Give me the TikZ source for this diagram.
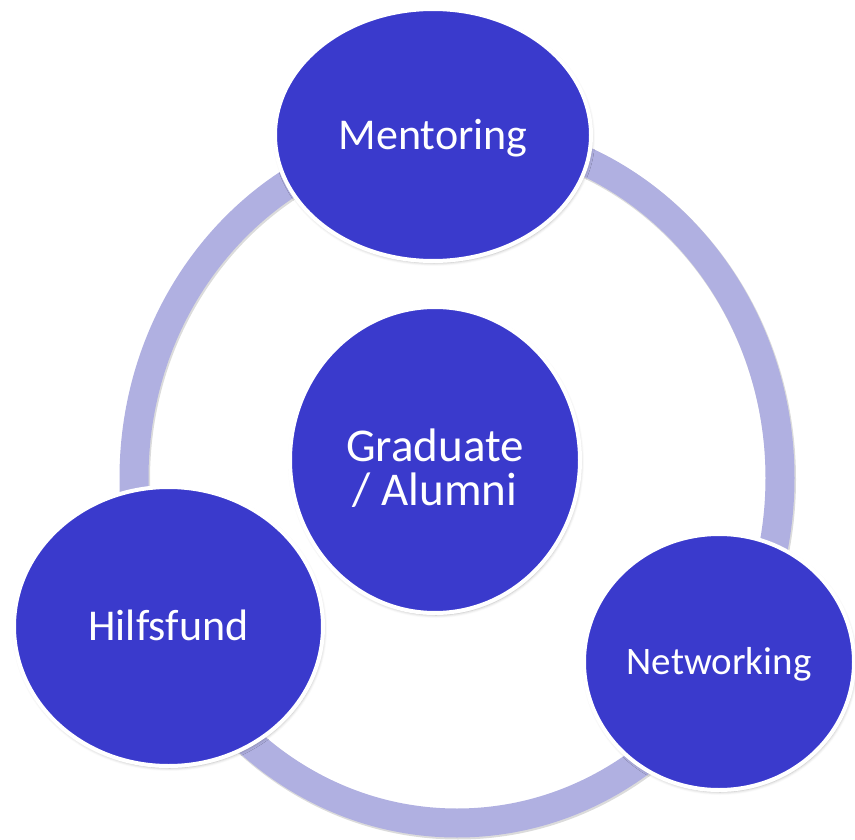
\documentclass[tikz,border=0pt]{standalone}
\usepackage{fontspec}
\setmainfont{Carlito}
\usetikzlibrary{shapes.geometric,shadows.blur}
\definecolor{blobblue}{RGB}{58,58,204}
\definecolor{ringblue}{RGB}{176,176,225}
\tikzset{
  blob/.style={ellipse, fill=blobblue, draw=white, line width=4pt, inner sep=0pt,
    text=white, blur shadow={shadow xshift=1pt, shadow yshift=-2pt,
    shadow blur radius=3pt, shadow opacity=30}},
  ringline/.style={draw=ringblue, line width=29pt},
  ringshadow/.style={draw=black!40, opacity=0.35, line width=30pt}
}
\begin{document}
\begin{tikzpicture}[x=1pt,y=-1pt]
\useasboundingbox (0,0) rectangle (855,840);
\coordinate (rc) at (457,478);
\draw[ringshadow] ([shift={(1,1.5)}]rc) ellipse [x radius=323, y radius=345];
\draw[ringline] (rc) ellipse [x radius=323, y radius=345];
\node[blob, text height=28.3pt, text depth=0pt, minimum width=316pt, minimum height=252pt,
  font=\fontsize{44}{48}\selectfont] (ment) at (433,135) {Mentoring};
\node[blob, text height=28.3pt, text depth=0pt, minimum width=309pt, minimum height=279pt,
  font=\fontsize{44}{48}\selectfont] (hilf) at (168.5,626.5) {Hilfsfund};
\node[blob, text height=25.1pt, text depth=0pt, minimum width=270pt, minimum height=256pt,
  font=\fontsize{39}{42}\selectfont] (netw) at (719,662) {Networking};
\node[blob, align=center, minimum width=290pt, minimum height=306pt,
  font=\fontsize{47}{44}\selectfont] (grad) at (435,460)
  {\rule{0pt}{1.04em}Graduate\\/ Alumni};
\end{tikzpicture}
\end{document}
